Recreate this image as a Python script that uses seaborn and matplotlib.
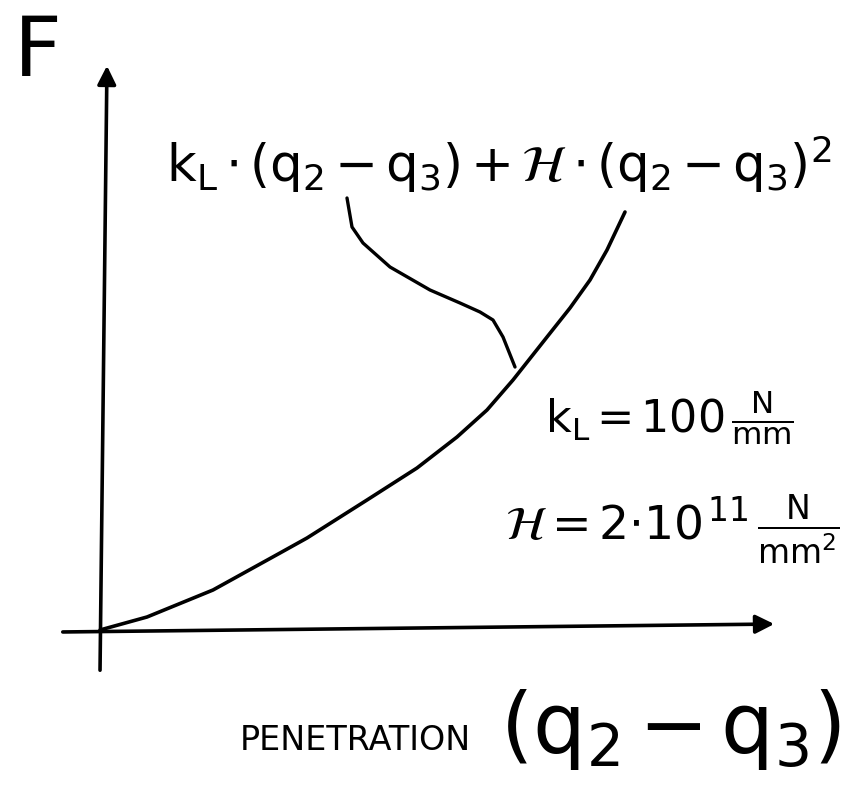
import matplotlib
matplotlib.use("Agg")
import matplotlib.pyplot as plt
import seaborn as sns
import pandas as pd

# curve (arbitrary units, origin at axis crossing)
penetration = [0, 47, 113, 180, 207, 267, 317, 357, 387, 413, 447, 470, 490, 507, 525]
force = [0, 13, 40, 77, 92, 130, 162, 193, 220, 250, 293, 322, 350, 380, 418]

# leader line from the formula down to the curve
leader_x = [247, 252, 263, 290, 330, 360, 380, 393, 403, 415]
leader_y = [432, 403, 387, 363, 340, 327, 318, 310, 293, 263]

# hand drawn axes (slightly tilted like in the sketch)
yaxis_x = [0, 7]
yaxis_y = [-43, 567]
xaxis_x = [-40, 677]
xaxis_y = [-2, 6]

kL_text = r"$k_L = 100\,\frac{N}{mm}$"
H_text = r"$\mathcal{H} = 2{\cdot}10^{\,11}\,\frac{N}{mm^2}$"
formula = r"$k_L\cdot(q_2-q_3)+\mathcal{H}\cdot(q_2-q_3)^2$"

sns.set_theme(style="white")
plt.rcParams["mathtext.fontset"] = "stixsans"
plt.rcParams["mathtext.default"] = "regular"
plt.rcParams["font.family"] = ["DejaVu Sans"]

fig = plt.figure(figsize=(8.63, 7.89), dpi=100)
ax = fig.add_axes([0, 0, 1, 1])
ax.set_xlim(-100, 763)
ax.set_ylim(-159, 630)
ax.axis("off")

# axes with arrow heads
ax.annotate("", xy=(yaxis_x[1], yaxis_y[1]), xytext=(yaxis_x[0], yaxis_y[0]),
            arrowprops=dict(arrowstyle="-|>", lw=2.6, color="black", mutation_scale=28))
ax.annotate("", xy=(xaxis_x[1], xaxis_y[1]), xytext=(xaxis_x[0], xaxis_y[0]),
            arrowprops=dict(arrowstyle="-|>", lw=2.6, color="black", mutation_scale=28))

df = pd.DataFrame({"x": penetration, "F": force})
sns.lineplot(data=df, x="x", y="F", ax=ax, color="black", lw=2.6,
             solid_capstyle="round", solid_joinstyle="round")
sns.lineplot(x=leader_x, y=leader_y, ax=ax, color="black", lw=2.4, sort=False,
             solid_capstyle="round", solid_joinstyle="round")

ax.text(-62, 578, "F", fontsize=60, ha="center", va="center", color="black")
ax.text(66, 466, formula, fontsize=37, ha="left", va="center", color="black")
ax.text(445, 212, kL_text, fontsize=32, ha="left", va="center", color="black")
ax.text(405, 100, H_text, fontsize=34, ha="left", va="center", color="black")
ax.text(140, -110, "PENETRATION", fontsize=24, ha="left", va="center", color="black")
ax.text(400, -100, r"$(q_2 - q_3)$", fontsize=60, ha="left", va="center", color="black")

fig.savefig("out.png", dpi=100)
